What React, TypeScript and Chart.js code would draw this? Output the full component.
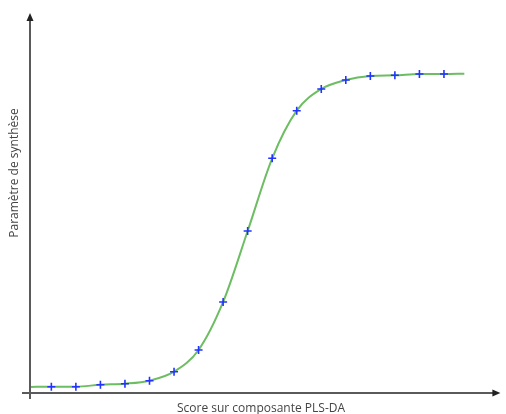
import React, { useEffect, useRef } from "react";
import { Chart, registerables } from "chart.js";

Chart.register(...registerables);

// Scores (x) of the measured points and their synthesis parameter values (y)
const markerScores = [-8, -7, -6, -5, -4, -3, -2, -1, 0, 1, 2, 3, 4, 5, 6, 7, 8];
const markerValues = [
  0.0166, 0.0166, 0.0218, 0.0245, 0.0324, 0.0561, 0.1132, 0.2395, 0.4263,
  0.6176, 0.7429, 0.8, 0.8237, 0.8342, 0.836, 0.8395, 0.8395,
];
// Fitted curve: same points, extended to both ends
const curveScores = [-8.87, ...markerScores, 8.83];
const curveValues = [0.0158, ...markerValues, 0.8403];

const xTitle = "Score sur composante PLS-DA";
const yTitle = "Paramètre de synthèse";

const FONT = "'Open Sans', 'DejaVu Sans', sans-serif";

const axesPlugin = {
  id: "arrowAxes",
  afterDraw(chart: any) {
    const { ctx, chartArea } = chart;
    const { left, right, top, bottom } = chartArea;
    ctx.save();
    // axes
    ctx.strokeStyle = "#5a5a5a";
    ctx.lineWidth = 2;
    ctx.beginPath();
    ctx.moveTo(left, top + 4);
    ctx.lineTo(left, bottom + 6);
    ctx.moveTo(left - 8, bottom);
    ctx.lineTo(right - 4, bottom);
    ctx.stroke();
    // arrow heads
    ctx.fillStyle = "#222";
    ctx.beginPath();
    ctx.moveTo(left, top);
    ctx.lineTo(left - 3.5, top + 8);
    ctx.lineTo(left + 3.5, top + 8);
    ctx.closePath();
    ctx.fill();
    ctx.beginPath();
    ctx.moveTo(right, bottom);
    ctx.lineTo(right - 8, bottom - 3.5);
    ctx.lineTo(right - 8, bottom + 3.5);
    ctx.closePath();
    ctx.fill();
    // titles
    ctx.fillStyle = "#444";
    ctx.font = `12px ${FONT}`;
    ctx.textAlign = "center";
    ctx.textBaseline = "middle";
    ctx.fillText(xTitle, 261, 409);
    ctx.translate(15, 173);
    ctx.rotate(-Math.PI / 2);
    ctx.fillText(yTitle, 0, 0);
    ctx.restore();
  },
};

export default function App() {
  const ref = useRef<HTMLCanvasElement>(null);
  useEffect(() => {
    if (!ref.current) return;
    const chart = new Chart(ref.current, {
      type: "scatter",
      data: {
        datasets: [
          {
            type: "line",
            data: curveScores.map((x, i) => ({ x, y: curveValues[i] })),
            borderColor: "#6dbd62",
            borderWidth: 2,
            pointRadius: 0,
            cubicInterpolationMode: "monotone",
            fill: false,
            order: 2,
          } as any,
          {
            type: "scatter",
            data: markerScores.map((x, i) => ({ x, y: markerValues[i] })),
            pointStyle: "cross",
            pointRadius: 4,
            borderColor: "#2233ff",
            borderWidth: 1.6,
            order: 1,
          } as any,
        ],
      },
      options: {
        responsive: false,
        animation: false,
        layout: { padding: { left: 30, right: 3, top: 13, bottom: 21 } },
        plugins: { legend: { display: false }, tooltip: { enabled: false } },
        scales: {
          x: { type: "linear", display: false, min: -8.87, max: 10.3 },
          y: { type: "linear", display: false, min: 0, max: 1 },
        },
      },
      plugins: [axesPlugin],
    });
    return () => chart.destroy();
  }, []);
  return (
    <div style={{ position: "fixed", left: 0, top: 0, width: 506, height: 414, background: "#fff" }}>
      <canvas ref={ref} width={506} height={414} />
    </div>
  );
}
